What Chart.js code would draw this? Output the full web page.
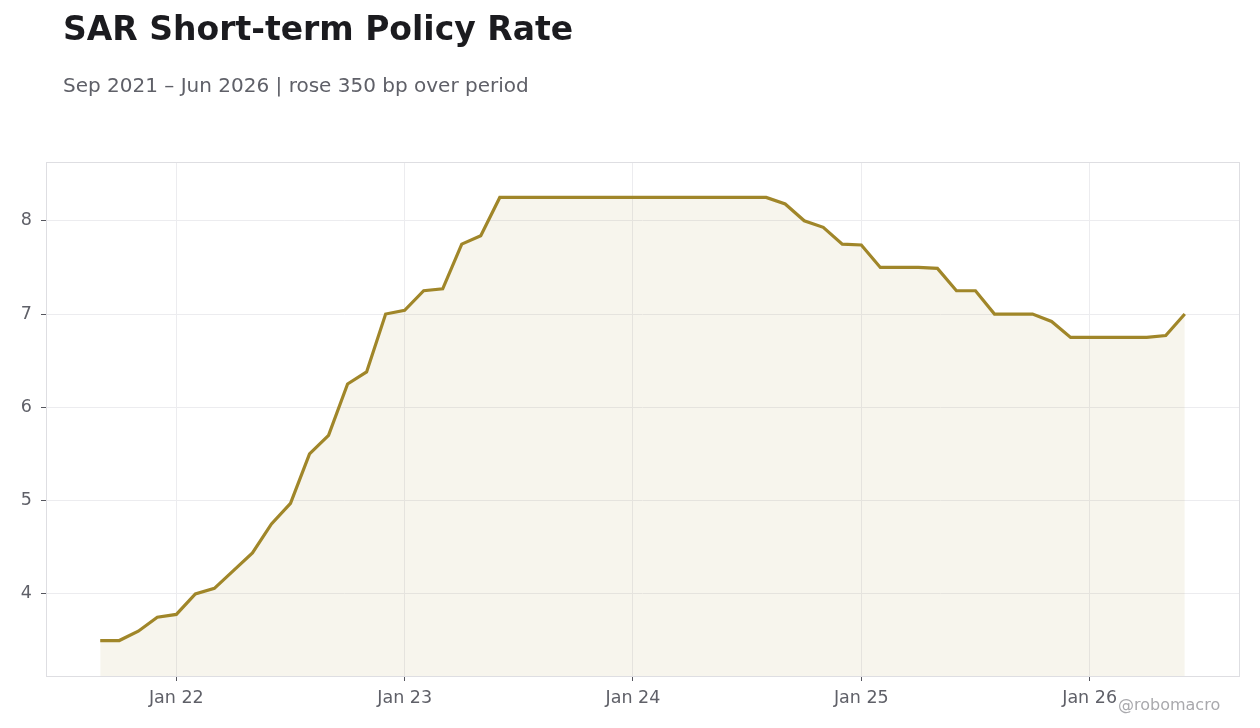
<!DOCTYPE html>
<html>
<head>
<meta charset="utf-8">
<script src="https://cdn.jsdelivr.net/npm/chart.js@4.4.1/dist/chart.umd.min.js"></script>
<style>
  html, body { margin: 0; padding: 0; background: #fff; }
  body { width: 1260px; height: 728px; position: relative; overflow: hidden; font-family: 'DejaVu Sans', sans-serif; }
  #title { position: absolute; left: 63px; top: 9px; font-size: 33px; font-weight: bold; color: #1b1b1f; white-space: nowrap; }
  #subtitle { position: absolute; left: 63px; top: 73px; font-size: 20px; color: #5f6068; white-space: nowrap; }
  #credit { position: absolute; left: 1118px; top: 695px; font-size: 16px; color: #a9a9ad; white-space: nowrap; }
  #chart { position: absolute; left: 0; top: 0; }
</style>
</head>
<body>
<canvas id="chart" width="1260" height="728"></canvas>
<div id="title">SAR Short-term Policy Rate</div>
<div id="subtitle">Sep 2021 – Jun 2026 | rose 350 bp over period</div>
<div id="credit">@robomacro</div>
<script>
// monthly observations, Sep 2021 .. Jun 2026
const months = [
  'Sep 21', 'Oct 21', 'Nov 21', 'Dec 21',
  'Jan 22', 'Feb 22', 'Mar 22', 'Apr 22', 'May 22', 'Jun 22', 'Jul 22', 'Aug 22', 'Sep 22', 'Oct 22', 'Nov 22', 'Dec 22',
  'Jan 23', 'Feb 23', 'Mar 23', 'Apr 23', 'May 23', 'Jun 23', 'Jul 23', 'Aug 23', 'Sep 23', 'Oct 23', 'Nov 23', 'Dec 23',
  'Jan 24', 'Feb 24', 'Mar 24', 'Apr 24', 'May 24', 'Jun 24', 'Jul 24', 'Aug 24', 'Sep 24', 'Oct 24', 'Nov 24', 'Dec 24',
  'Jan 25', 'Feb 25', 'Mar 25', 'Apr 25', 'May 25', 'Jun 25', 'Jul 25', 'Aug 25', 'Sep 25', 'Oct 25', 'Nov 25', 'Dec 25',
  'Jan 26', 'Feb 26', 'Mar 26', 'Apr 26', 'May 26', 'Jun 26'
]
const rate = [
  3.5, 3.5, 3.6, 3.75,
  3.78, 4.0, 4.06, 4.25, 4.44, 4.75, 4.97, 5.5, 5.7, 6.25, 6.38, 7.0,
  7.04, 7.25, 7.27, 7.75, 7.84, 8.25, 8.25, 8.25, 8.25, 8.25, 8.25, 8.25,
  8.25, 8.25, 8.25, 8.25, 8.25, 8.25, 8.25, 8.25, 8.18, 8.0, 7.93, 7.75,
  7.74, 7.5, 7.5, 7.5, 7.49, 7.25, 7.25, 7.0, 7.0, 7.0, 6.92, 6.75,
  6.75, 6.75, 6.75, 6.75, 6.77, 7.0
]
const xTickLabels = ['Jan 22', 'Jan 23', 'Jan 24', 'Jan 25', 'Jan 26']
const yTicks = [4, 5, 6, 7, 8]

const lineColor = '#a08629'
const tickText = '#5f6068'

// ticks sit on the month index of each label
const xTickPos = xTickLabels.map(l => months.indexOf(l))
const points = rate.map((v, i) => ({ x: i, y: v }))

// light frame round the plot area
const framePlugin = {
  id: 'frame',
  afterDraw(chart) {
    const { ctx, chartArea: a } = chart
    ctx.save()
    ctx.strokeStyle = '#dedee2'
    ctx.lineWidth = 1
    ctx.strokeRect(a.left + 0.5, a.top + 0.5, a.right - a.left, a.bottom - a.top)
    ctx.restore()
  }
}

new Chart(document.getElementById('chart'), {
  type: 'line',
  data: {
    datasets: [{
      data: points,
      borderColor: lineColor,
      borderWidth: 3.2,
      backgroundColor: 'rgba(170, 140, 60, 0.09)',
      fill: 'start',
      pointRadius: 0,
      tension: 0
    }]
  },
  options: {
    responsive: false,
    animation: false,
    devicePixelRatio: 1,
    layout: { padding: { top: 162, right: 21, left: 0, bottom: 0 } },
    plugins: { legend: { display: false }, tooltip: { enabled: false } },
    scales: {
      x: {
        type: 'linear',
        min: -2.85,
        max: 59.85,
        afterBuildTicks: s => { s.ticks = xTickPos.map(v => ({ value: v })) },
        afterFit: s => { s.height = 52 },
        ticks: {
          color: tickText,
          font: { family: 'DejaVu Sans', size: 17.5 },
          padding: 7,
          maxRotation: 0,
          callback: v => xTickLabels[xTickPos.indexOf(v)]
        },
        grid: { color: '#ececef', tickColor: '#55565e', tickLength: 5 },
        border: { display: false }
      },
      y: {
        min: 3.12,
        max: 8.63,
        afterBuildTicks: s => { s.ticks = yTicks.map(v => ({ value: v })) },
        afterFit: s => { s.width = 46 },
        ticks: {
          color: tickText,
          font: { family: 'DejaVu Sans', size: 17.5 },
          padding: 9
        },
        grid: { color: '#ececef', tickColor: '#55565e', tickLength: 5 },
        border: { display: false }
      }
    }
  },
  plugins: [framePlugin]
})
</script>
</body>
</html>
